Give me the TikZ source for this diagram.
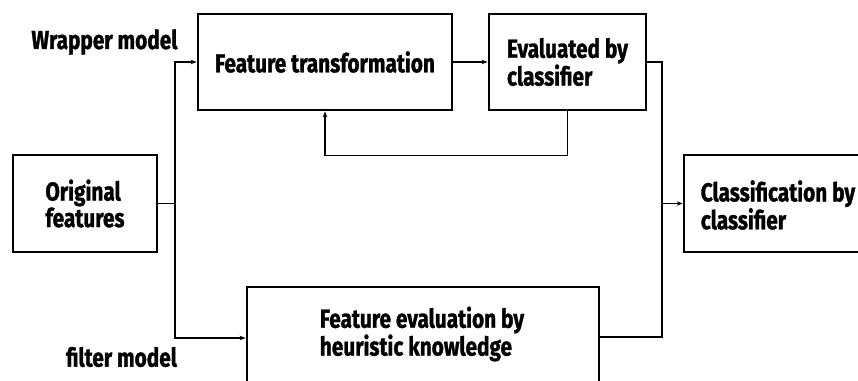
\documentclass[tikz,border=0pt]{standalone}
\usepackage{fontspec}
\setmainfont{Fira Sans}[FakeStretch=0.8,BoldFeatures={FakeBold=1.2}]
\usetikzlibrary{arrows.meta}
\begin{document}
\begin{tikzpicture}[x=1pt,y=-1pt,
  box/.style={draw,line width=2.8pt,inner sep=0pt},
  txt/.style={font=\bfseries\fontsize{26}{24.5}\selectfont,align=left,inner sep=0pt},
  conn/.style={line width=1.3pt},
  arr/.style={conn,-{Stealth[length=6pt,width=4.5pt]}}]
\useasboundingbox (0,0) rectangle (858,380);
\clip (0,0) rectangle (858,380);
% boxes
\node[box,minimum width=144pt,minimum height=97pt] (orig) at (85,203.5) {};
\node[txt] at (orig.center) {Original\\features};
\node[box,minimum width=254pt,minimum height=96pt] (ft) at (325,62) {};
\node[txt] at (ft.center) {Feature transformation};
\node[box,minimum width=157pt,minimum height=96pt] (ev) at (567.5,62) {};
\node[txt] at (ev.center) {Evaluated by\\classifier};
\node[box,minimum width=190pt,minimum height=97pt] (cl) at (779,203.5) {};
\node[txt] at (778,205) {Classification by\\classifier};
\node[box,minimum width=352pt,minimum height=98pt] (fe) at (423,336) {};
\node[txt] at (422,334) {Feature evaluation by\\heuristic knowledge};
% labels
\node[txt] (wl) at (104.5,42) {Wrapper model};
\node[txt] (fl) at (121.5,357) {filter model};
% connectors
\coordinate (j1) at (175,203.5);
\coordinate (j2) at (662,203.5);
\draw[conn] (orig.east) -- (j1);
\draw[arr] (j1) |- (ft.west);
\draw[arr] (j1) |- (fe.west |- 0,338);
\draw[arr] (ft.east) -- (ev.west);
\draw[arr] (ev.south) -- ++(0,44) -| (ft.south);
\draw[conn] (ev.east) -| (j2);
\draw[conn] (fe.east |- 0,337) -| (j2);
\draw[arr] (j2) -- (cl.west);
\end{tikzpicture}
\end{document}
